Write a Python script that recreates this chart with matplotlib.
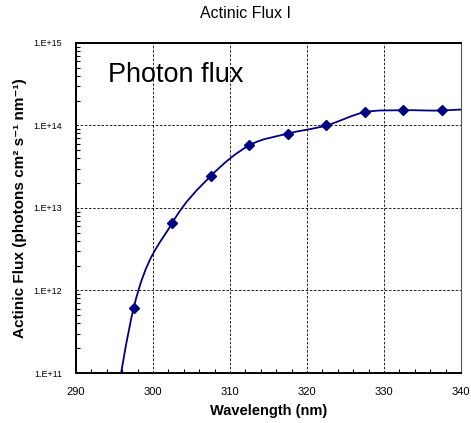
import matplotlib
matplotlib.use("Agg")
import matplotlib.pyplot as plt
import numpy as np
from matplotlib.path import Path
from matplotlib.patches import PathPatch
from matplotlib.ticker import LogLocator, MultipleLocator, FixedLocator

plt.rcParams['font.family'] = ['Liberation Sans', 'DejaVu Sans']

# data (points outside the axis range only shape the line)
wavelength = [292.5, 297.5, 302.5, 307.5, 312.5, 317.5, 322.5, 327.5, 332.5, 337.5, 342.5]
flux = [1.0e9, 6.2e11, 6.6e12, 2.44e13, 5.75e13, 7.97e13, 1.0e14, 1.45e14, 1.53e14, 1.52e14, 1.62e14]
shown = slice(1, 10)

y_ticks = [1e11, 1e12, 1e13, 1e14, 1e15]
y_labels = ["1.E+11", "1.E+12", "1.E+13", "1.E+14", "1.E+15"]
x_ticks = [290, 300, 310, 320, 330, 340]

navy = "#000080"

fig = plt.figure(figsize=(4.71, 4.23), dpi=100)
ax = fig.add_axes([76 / 471, 1 - 373 / 423, 385 / 471, 330 / 423])
ax.set_yscale("log")
ax.set_xlim(290, 340)
ax.set_ylim(1e11, 1e15)

# smoothed line: Catmull-Rom style Bezier segments in (x, log y) space
lx = np.array(wavelength, dtype=float)
ly = np.log10(flux)
n = len(lx)
verts = [(lx[0], ly[0])]
codes = [Path.MOVETO]
for i in range(n - 1):
    p0 = (lx[max(i - 1, 0)], ly[max(i - 1, 0)])
    p1 = (lx[i], ly[i])
    p2 = (lx[i + 1], ly[i + 1])
    p3 = (lx[min(i + 2, n - 1)], ly[min(i + 2, n - 1)])
    c1 = (p1[0] + (p2[0] - p0[0]) / 6, p1[1] + (p2[1] - p0[1]) / 6)
    c2 = (p2[0] - (p3[0] - p1[0]) / 6, p2[1] - (p3[1] - p1[1]) / 6)
    verts += [c1, c2, p2]
    codes += [Path.CURVE4] * 3
verts = [(vx, 10 ** vy) for vx, vy in verts]
curve = PathPatch(Path(verts, codes), facecolor="none", edgecolor=navy, lw=1.3, zorder=3)
ax.add_patch(curve)
ax.plot(wavelength[shown], flux[shown], linestyle="none", marker="D", ms=5.2,
        color=navy, zorder=4, clip_on=False)

ax.yaxis.set_major_locator(FixedLocator(y_ticks))
ax.set_yticklabels(y_labels)
ax.yaxis.set_minor_locator(LogLocator(base=10, subs=np.arange(2, 10)))
ax.yaxis.set_minor_formatter(plt.NullFormatter())
ax.xaxis.set_major_locator(FixedLocator(x_ticks))
ax.xaxis.set_minor_locator(MultipleLocator(2))

ax.tick_params(axis="y", which="major", length=0, labelsize=6.5, pad=10)
ax.tick_params(axis="y", which="minor", direction="in", length=3, width=0.8)
ax.tick_params(axis="x", which="major", length=0, labelsize=8, pad=10)
ax.tick_params(axis="x", which="minor", direction="in", length=3, width=0.8)

ax.grid(True, which="major", color="black", linestyle=(0, (3, 2)), lw=0.6)

for side in ["left", "bottom", "top"]:
    ax.spines[side].set_linewidth(1.4)
    ax.spines[side].set_color("black")
ax.spines["right"].set_linewidth(0.8)
ax.spines["right"].set_color("#555555")

ax.set_xlabel("Wavelength (nm)", fontsize=10.5, fontweight="bold", labelpad=5)
ax.set_ylabel("Actinic Flux (photons cm\u00b2 s\u207b\u00b9 nm\u207b\u00b9)", fontsize=11,
              fontweight="bold", labelpad=5)
ax.text(32 / 385, 1 - 32 / 330, "Photon flux", transform=ax.transAxes, fontsize=19.5,
        ha="left", va="center")
fig.text(245 / 471, 1 - 13 / 423, "Actinic Flux I", fontsize=11.5, ha="center", va="center")

fig.savefig("out.png", dpi=100)
